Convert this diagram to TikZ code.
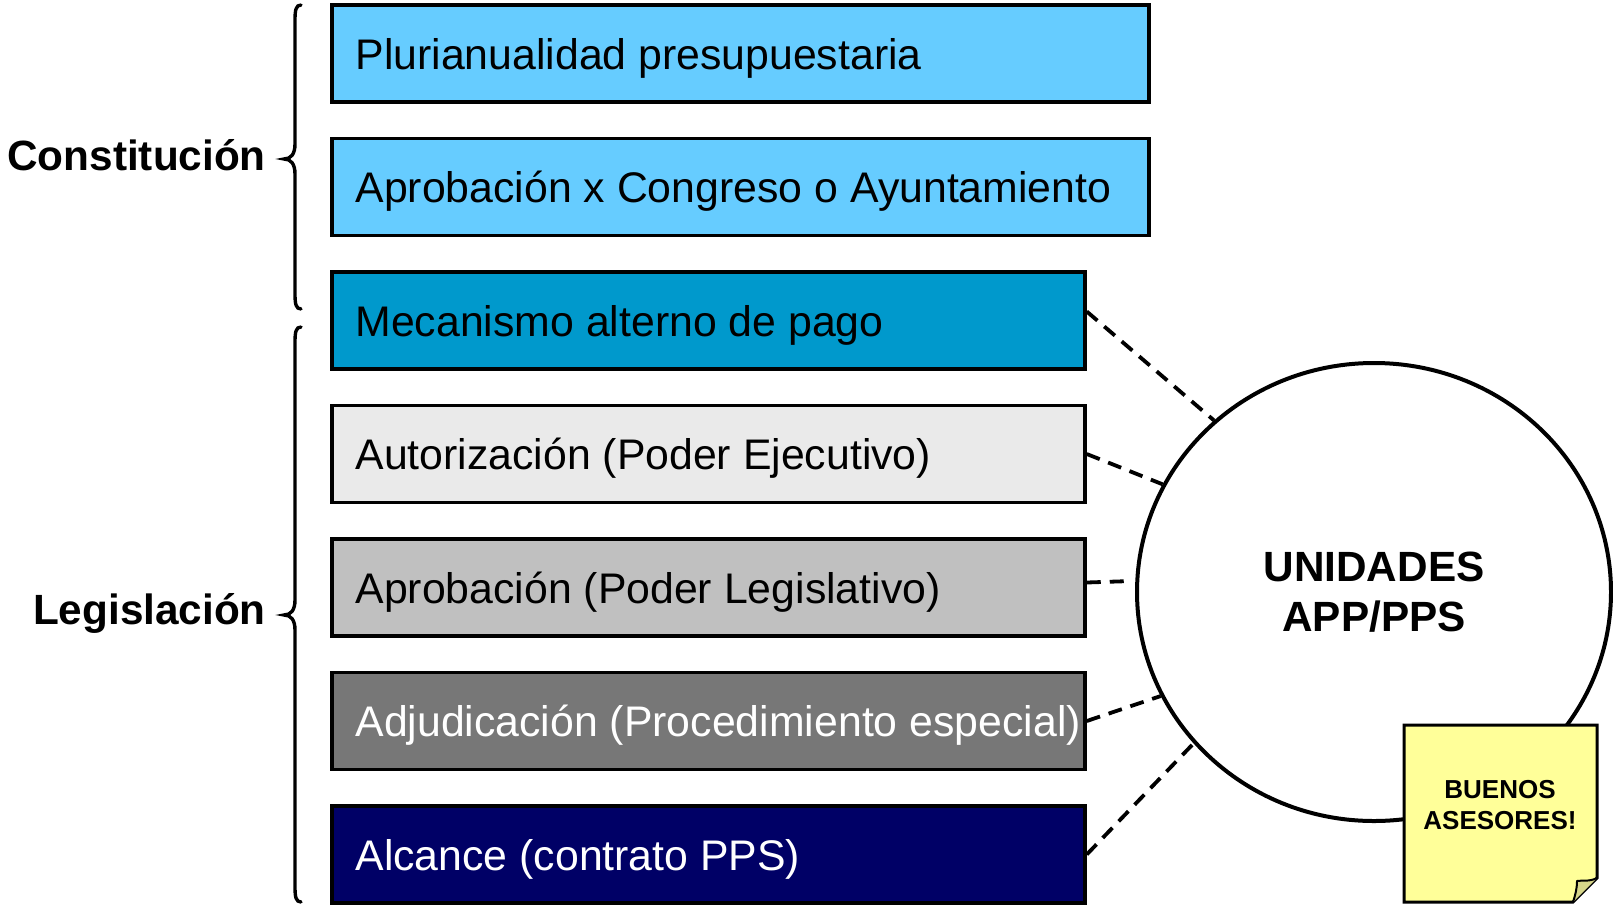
\documentclass[tikz,border=0pt]{standalone}
\usepackage{fontspec}
\setmainfont{Liberation Sans}
\usetikzlibrary{shapes.geometric}
\definecolor{lblue}{HTML}{66CCFF}
\definecolor{mblue}{HTML}{0099CC}
\definecolor{lgray}{HTML}{EAEAEA}
\definecolor{mgray}{HTML}{C0C0C0}
\definecolor{dgray}{HTML}{777777}
\definecolor{navy}{HTML}{000066}
\definecolor{noteyellow}{HTML}{FFFF99}
\definecolor{notefold}{HTML}{D6D68A}
\begin{document}
\begin{tikzpicture}[x=1pt,y=-1pt,
  bx/.style={draw=black, line width=3.5pt, minimum height=97pt, inner sep=0pt, rectangle},
  txt/.style={anchor=base west, inner sep=0pt, font=\fontsize{42.8}{50}\selectfont},
  head/.style={anchor=base east, inner sep=0pt, font=\fontsize{42.3}{50}\selectfont\bfseries},
  brace/.style={line width=3.4pt, line cap=round},
  dline/.style={line width=3.8pt, dash pattern=on 14pt off 9pt}]
\useasboundingbox (0,0) rectangle (1613,905);

% boxes
\node[bx, minimum width=817pt, fill=lblue] (b1) at (740.5,53.5) {};
\node[bx, minimum width=817pt, fill=lblue] (b2) at (740.5,187) {};
\node[bx, minimum width=753pt, fill=mblue] (b3) at (708.5,320.5) {};
\node[bx, minimum width=753pt, fill=lgray] (b4) at (708.5,454) {};
\node[bx, minimum width=753pt, fill=mgray] (b5) at (708.5,587.5) {};
\node[bx, minimum width=753pt, fill=dgray] (b6) at (708.5,721) {};
\node[bx, minimum width=753pt, fill=navy] (b7) at (708.5,854.5) {};

\node[txt] (t1) at ([xshift=25pt,yshift=-15.5pt]b1.west) {Plurianualidad presupuestaria};
\node[txt] (t2) at ([xshift=25pt,yshift=-15.5pt]b2.west) {Aprobación x Congreso o Ayuntamiento};
\node[txt] (t3) at ([xshift=25pt,yshift=-15.5pt]b3.west) {Mecanismo alterno de pago};
\node[txt] (t4) at ([xshift=25pt,yshift=-15.5pt]b4.west) {Autorización (Poder Ejecutivo)};
\node[txt] (t5) at ([xshift=25pt,yshift=-15.5pt]b5.west) {Aprobación (Poder Legislativo)};
\node[txt, text=white] (t6) at ([xshift=25pt,yshift=-15.5pt]b6.west) {Adjudicación (Procedimiento especial)};
\node[txt, text=white] (t7) at ([xshift=25pt,yshift=-15.5pt]b7.west) {Alcance (contrato PPS)};

% headings
\node[head] (h1) at (266,170) {Constitución};
\node[head] (h2) at (266,624) {Legislación};

% braces
\draw[brace] (301,5) .. controls (296,5) and (295,10) .. (295,20) -- (295,144)
  .. controls (295,154) and (291,159) .. (284,159)
  .. controls (291,159) and (295,164) .. (295,174) -- (295,294)
  .. controls (295,304) and (296,309) .. (301,309);
\draw[brace] (301,327) .. controls (296,327) and (295,332) .. (295,342) -- (295,600)
  .. controls (295,610) and (291,615) .. (284,615)
  .. controls (291,615) and (295,620) .. (295,630) -- (295,887)
  .. controls (295,897) and (296,902) .. (301,902);

% ellipse
\node[ellipse, draw=black, line width=4pt, fill=white, minimum width=474pt, minimum height=458pt,
  inner sep=0pt, align=center, font=\fontsize{42.3}{50}\selectfont\bfseries] (u) at (1374,592) {UNIDADES\\APP/PPS};

% dashed connectors
\coordinate (e3) at (1132,581);
\draw[dline] ([yshift=9pt]b3.east) -- (u.133);
\draw[dline] (b4.east) -- (u.153);
\draw[dline] ([yshift=5pt]b5.east) -- (e3);
\draw[dline] (b6.east) -- (u.206);
\draw[dline] (b7.east) -- (u.220);

% note
\draw[line width=3pt, fill=noteyellow, line join=miter] (1404,725) -- (1597,725) -- (1597,878) -- (1573,902) -- (1404,902) -- cycle;
\draw[line width=2pt, fill=notefold, line join=round] (1597,878) .. controls (1589,882) and (1582,880) .. (1577,881)
  .. controls (1577,889) and (1575,896) .. (1573,902);
\node[align=center, inner sep=0pt, font=\fontsize{26}{31}\selectfont\bfseries] (note) at (1500,805) {BUENOS\\ASESORES!};
\end{tikzpicture}
\end{document}
